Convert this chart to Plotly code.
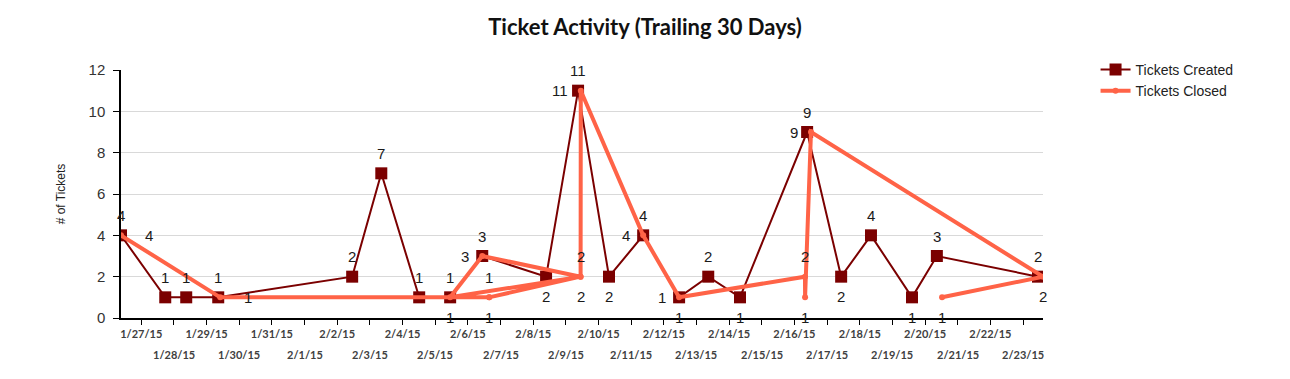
import plotly.graph_objects as go

# ---------------- data ----------------
created_x = ["2015-01-26 09:07", "2015-01-27 17:38", "2015-01-28 09:03", "2015-01-29 08:34",
             "2015-02-02 11:00", "2015-02-03 08:24", "2015-02-04 12:15", "2015-02-05 11:00",
             "2015-02-06 10:35", "2015-02-08 09:30", "2015-02-09 09:00", "2015-02-10 07:45",
             "2015-02-11 08:50", "2015-02-12 11:15", "2015-02-13 08:40", "2015-02-14 08:00",
             "2015-02-16 09:20", "2015-02-17 10:20", "2015-02-18 08:15", "2015-02-19 14:25",
             "2015-02-20 08:40", "2015-02-23 11:00"]
created_y = [4, 1, 1, 1, 2, 7, 1, 1, 3, 2, 11, 2, 4, 1, 2, 1, 9, 2, 4, 1, 3, 2]

closed_x = ["2015-01-26 09:07", "2015-01-29 10:00", "2015-02-06 15:40", "2015-02-06 15:45",
            "2015-02-09 10:50", "2015-02-05 11:00", "2015-02-06 10:35", "2015-02-09 10:52",
            "2015-02-09 11:00", "2015-02-11 08:50", "2015-02-12 11:15", "2015-02-16 07:45",
            "2015-02-16 07:50", "2015-02-16 12:10", "2015-02-23 14:40", "2015-02-20 12:30"]
closed_y = [4, 1, 1, 1, 2, 1, 3, 2, 11, 4, 1, 2, 1, 9, 2, 1]

tick_dates = ["2015-01-27", "2015-01-28", "2015-01-29", "2015-01-30", "2015-01-31", "2015-02-01",
              "2015-02-02", "2015-02-03", "2015-02-04", "2015-02-05", "2015-02-06", "2015-02-07",
              "2015-02-08", "2015-02-09", "2015-02-10", "2015-02-11", "2015-02-12", "2015-02-13",
              "2015-02-14", "2015-02-15", "2015-02-16", "2015-02-17", "2015-02-18", "2015-02-19",
              "2015-02-20", "2015-02-21", "2015-02-22", "2015-02-23"]
tick_labels = ["1/27/15", "1/28/15", "1/29/15", "1/30/15", "1/31/15", "2/1/15", "2/2/15", "2/3/15",
               "2/4/15", "2/5/15", "2/6/15", "2/7/15", "2/8/15", "2/9/15", "2/10/15", "2/11/15",
               "2/12/15", "2/13/15", "2/14/15", "2/15/15", "2/16/15", "2/17/15", "2/18/15",
               "2/19/15", "2/20/15", "2/21/15", "2/22/15", "2/23/15"]

# ---------------- label placement (style) ----------------
created_label_pos = ["a", "a", "a", "a", "a", "a", "a", "a", "a", "b", "a", "b", "a", "b",
                     "a", "b", "a", "b", "a", "b", "a", "a"]
closed_label_pos = ["r", "r", "a", "b", "b", "b", "l", "a", "l", "l", "l", "a", "b", "l", "b", "b"]

CREATED_COLOR = "#7B0000"
CLOSED_COLOR = "#FF6347"
LABEL_FONT = dict(family="Liberation Sans, Arial", size=15, color="#1a1a1a")

fig = go.Figure()
fig.add_trace(go.Scatter(
    x=created_x, y=created_y, name="Tickets Created", mode="lines+markers",
    line=dict(color=CREATED_COLOR, width=2),
    marker=dict(symbol="square", size=12, color=CREATED_COLOR),
))
fig.add_trace(go.Scatter(
    x=closed_x, y=closed_y, name="Tickets Closed", mode="lines+markers",
    line=dict(color=CLOSED_COLOR, width=4),
    marker=dict(symbol="circle", size=6, color=CLOSED_COLOR),
))


def add_labels(xs, ys, positions):
    for xv, yv, p in zip(xs, ys, positions):
        kw = dict(x=xv, y=yv, xref="x", yref="y", text=str(yv), showarrow=False, font=LABEL_FONT)
        if p == "a":
            kw.update(yshift=20)
        elif p == "b":
            kw.update(yshift=-20)
        elif p == "l":
            kw.update(xanchor="right", xshift=-11)
        elif p == "r":
            kw.update(xanchor="left", xshift=22)
        fig.add_annotation(**kw)


add_labels(created_x, created_y, created_label_pos)
add_labels(closed_x, closed_y, closed_label_pos)

all_x = created_x + closed_x
x_range = [min(all_x), max(all_x)]

tick_font = dict(family="Lato, Carlito, sans-serif", size=11, color="#404040", weight="bold")
top_text = [t if i % 2 == 0 else "" for i, t in enumerate(tick_labels)]

# second (staggered) row of date labels
for i, (d, t) in enumerate(zip(tick_dates, tick_labels)):
    if i % 2 == 1:
        fig.add_annotation(x=d, y=0, xref="x", yref="paper", text=t, showarrow=False,
                           yanchor="middle", yshift=-36, font=tick_font)

fig.update_layout(
    width=1290, height=379,
    paper_bgcolor="white", plot_bgcolor="white",
    margin=dict(l=121, r=247, t=70, b=61, autoexpand=False),
    title=dict(text="<b>Ticket Activity (Trailing 30 Days)</b>", x=0.5, xanchor="center",
               y=1 - 27 / 379, yanchor="middle", yref="container",
               font=dict(family="Lato, sans-serif", size=22, color="#111")),
    showlegend=True,
    legend=dict(x=1.057, y=1.065, xanchor="left", yanchor="top",
                font=dict(family="Liberation Sans, Arial", size=14, color="#222"),
                bgcolor="rgba(0,0,0,0)", tracegroupgap=0, itemwidth=30),
    xaxis=dict(type="date", range=x_range, tickvals=tick_dates, ticktext=top_text,
               ticks="outside", ticklen=5, tickcolor="#000", showline=True, linecolor="#000",
               linewidth=1.5, showgrid=False, zeroline=False, tickangle=0, tickfont=tick_font),
    yaxis=dict(range=[0, 12], dtick=2, ticks="outside", ticklen=6, tickcolor="#000",
               showline=True, linecolor="#000", linewidth=1.5, showgrid=True,
               gridcolor="#d9d9d9", zeroline=False, ticklabelstandoff=5,
               tickfont=dict(family="Liberation Sans, Arial", size=15, color="#333"),
               title=dict(text="# of Tickets", standoff=20,
                          font=dict(family="Liberation Sans, Arial", size=12, color="#222"))),
)

fig.write_html("out.html", config={"displayModeBar": False},
               post_script="document.body.style.margin='0';")
